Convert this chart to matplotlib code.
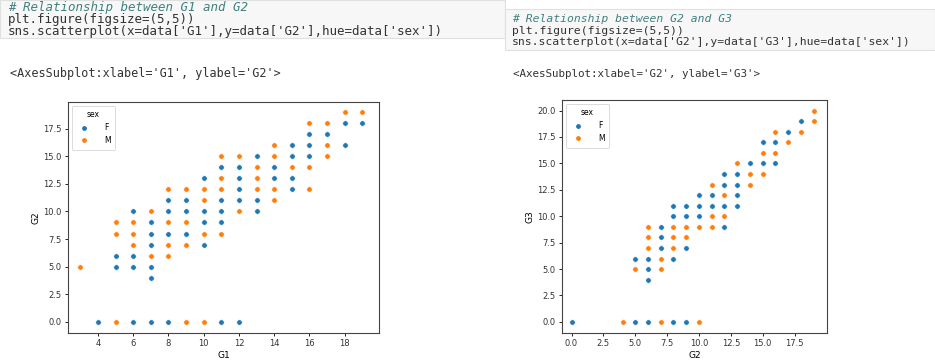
import matplotlib
matplotlib.use('Agg')
import matplotlib.pyplot as plt
from matplotlib.patches import Rectangle
from matplotlib.lines import Line2D

# G1 vs G2 (left panel), points per sex
g1_f = [18, 19, 16, 17, 15, 16, 18, 13, 15, 16, 11, 12, 14, 10, 12, 14, 15, 12, 15,
        8, 9, 11, 12, 13, 6, 8, 9, 10, 11, 13, 7, 10, 11, 7, 8, 9, 7, 10, 5, 6,
        5, 6, 7, 7, 4, 6, 7, 8, 11, 12]
g2_f = [18, 18, 17, 17, 16, 16, 16, 15, 15, 15, 14, 14, 14, 13, 13, 13, 13, 12, 12,
        11, 11, 11, 11, 11, 10, 10, 10, 10, 10, 10, 9, 9, 9, 8, 8, 8, 7, 7, 6, 6,
        5, 5, 5, 4, 0, 0, 0, 0, 0, 0]
g1_m = [18, 19, 16, 17, 14, 17, 11, 12, 14, 17, 13, 15, 16, 11, 13, 8, 9, 10, 11,
        13, 14, 16, 10, 14, 7, 12, 5, 6, 8, 9, 5, 6, 10, 11, 6, 8, 9, 7, 8, 3,
        5, 9, 10]
g2_m = [19, 19, 18, 18, 16, 16, 15, 15, 15, 15, 14, 14, 14, 13, 13, 12, 12, 12, 12,
        12, 12, 12, 11, 11, 10, 10, 9, 9, 9, 9, 8, 8, 8, 8, 7, 7, 7, 6, 6, 5,
        0, 0, 0]

# G2 vs G3 (right panel)
g2r_f = [18, 17, 15, 16, 14, 15, 16, 12, 13, 12, 13, 10, 11, 13, 8, 9, 10, 11, 12,
         13, 8, 9, 10, 7, 12, 7, 7, 9, 5, 6, 8, 6, 6, 0, 5, 6, 8, 9]
g3r_f = [19, 18, 17, 17, 15, 15, 15, 14, 14, 13, 13, 12, 12, 12, 11, 11, 11, 11, 11,
         11, 10, 10, 10, 9, 9, 8, 7, 7, 6, 6, 6, 5, 4, 0, 0, 0, 0, 0]
g2r_m = [19, 19, 16, 18, 17, 15, 16, 13, 14, 15, 11, 14, 12, 11, 12, 6, 8, 9, 10,
         11, 6, 8, 9, 6, 8, 7, 5, 7, 4, 7, 10]
g3r_m = [20, 19, 18, 18, 17, 16, 16, 15, 14, 14, 13, 13, 12, 10, 10, 9, 9, 9, 9,
         9, 8, 8, 8, 7, 7, 6, 5, 5, 0, 0, 0]

left_code = ["# Relationship between G1 and G2",
             "plt.figure(figsize=(5,5))",
             "sns.scatterplot(x=data['G1'],y=data['G2'],hue=data['sex'])"]
right_code = ["# Relationship between G2 and G3",
              "plt.figure(figsize=(5,5))",
              "sns.scatterplot(x=data['G2'],y=data['G3'],hue=data['sex'])"]
left_out = "<AxesSubplot:xlabel='G1', ylabel='G2'>"
right_out = "<AxesSubplot:xlabel='G2', ylabel='G3'>"

W, H = 935, 360
blue = '#1f77b4'
orange = '#ff7f0e'


def px_axes(fig, x0, y0, x1, y1):
  return fig.add_axes([x0 / W, 1 - y1 / H, (x1 - x0) / W, (y1 - y0) / H])


def code_cell(fig, x0, y0, x1, y1, lines, xt, yt, step, size):
  fig.patches.append(Rectangle((x0 / W, 1 - y1 / H), (x1 - x0) / W, (y1 - y0) / H,
                               transform=fig.transFigure, facecolor='#f7f7f7',
                               edgecolor='#e0e0e0', lw=0.8, zorder=0))
  for i, line in enumerate(lines):
    col = '#408080' if line.startswith('#') else '#333333'
    sty = 'italic' if line.startswith('#') else 'normal'
    fig.text(xt / W, 1 - (yt + i * step) / H, line, family='DejaVu Sans Mono',
             size=size, color=col, style=sty, va='center')


def scatter_panel(ax, xf, yf, xm, ym, xlab, ylab):
  ax.scatter(xf, yf, s=16, c=blue, edgecolors='white', linewidths=0.5, zorder=3)
  ax.scatter(xm, ym, s=16, c=orange, edgecolors='white', linewidths=0.5, zorder=3)
  ax.set_xlabel(xlab, fontsize=6.5, labelpad=2)
  ax.set_ylabel(ylab, fontsize=6.5, labelpad=2)
  ax.tick_params(labelsize=6, length=2.5, width=0.6, pad=2, labelcolor='#333333')
  for s in ax.spines.values():
    s.set_linewidth(0.8)
    s.set_color('#444444')
  handles = [Line2D([], [], marker='o', ls='', color=blue, mec='white', ms=4.5),
             Line2D([], [], marker='o', ls='', color=orange, mec='white', ms=4.5)]
  leg = ax.legend(handles, ['F', 'M'], title='sex', loc='upper left',
                  fontsize=5.5, title_fontsize=5.5, handletextpad=1.6,
                  borderpad=0.6, labelspacing=0.5)
  leg.get_frame().set_linewidth(0.6)


fig = plt.figure(figsize=(W / 100, H / 100), dpi=100)
fig.patch.set_facecolor('white')

code_cell(fig, 0, 0, 505, 38, left_code, 8, 8, 11.5, 9)
code_cell(fig, 505, 9, 935, 50, right_code, 512, 19, 11.5, 8.2)
fig.text(10 / W, 1 - 74 / H, left_out, family='DejaVu Sans Mono', size=8.5,
         color='#333333', va='center')
fig.text(513 / W, 1 - 74 / H, right_out, family='DejaVu Sans Mono', size=7.8,
         color='#333333', va='center')

ax1 = px_axes(fig, 68, 102, 379, 333)
scatter_panel(ax1, g1_f, g2_f, g1_m, g2_m, 'G1', 'G2')
ax1.set_xticks([4, 6, 8, 10, 12, 14, 16, 18])
ax1.set_yticks([0, 2.5, 5, 7.5, 10, 12.5, 15, 17.5])
ax1.set_yticklabels(['0.0', '2.5', '5.0', '7.5', '10.0', '12.5', '15.0', '17.5'])
ax1.set_xlim(2.3, 19.95)
ax1.set_ylim(-1.0, 19.9)

ax2 = px_axes(fig, 562, 100, 827, 333)
scatter_panel(ax2, g2r_f, g3r_f, g2r_m, g3r_m, 'G2', 'G3')
ax2.set_xticks([0, 2.5, 5, 7.5, 10, 12.5, 15, 17.5])
ax2.set_xticklabels(['0.0', '2.5', '5.0', '7.5', '10.0', '12.5', '15.0', '17.5'])
ax2.set_yticks([0, 2.5, 5, 7.5, 10, 12.5, 15, 17.5, 20])
ax2.set_yticklabels(['0.0', '2.5', '5.0', '7.5', '10.0', '12.5', '15.0', '17.5', '20.0'])
ax2.set_xlim(-0.75, 20.05)
ax2.set_ylim(-1.05, 21.0)

fig.savefig('out.png', dpi=100)
